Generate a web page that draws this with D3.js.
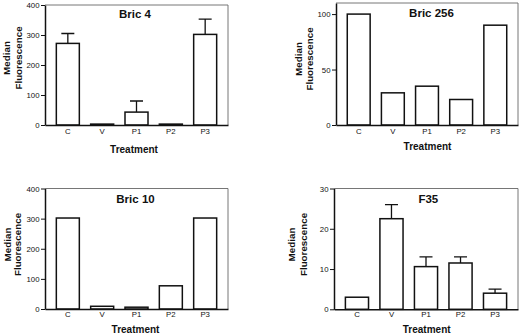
<!DOCTYPE html>
<html>
<head>
<meta charset="utf-8">
<script src="https://cdn.jsdelivr.net/npm/d3@7"></script>
<style>
  html, body { margin: 0; padding: 0; background: #fff; }
  svg { display: block; }
  text { font-family: "Liberation Sans", Arial, Helvetica, sans-serif; fill: #111; }
</style>
</head>
<body>
<svg id="chart" width="520" height="335"></svg>
<script>
const categories = ["C", "V", "P1", "P2", "P3"];

const bric4Values = [272, 3, 43, 3, 302];
const bric4Errors = [33, 0, 37, 0, 51];
const bric4Ticks = [0, 100, 200, 300, 400];

const bric256Values = [100, 29, 35, 23, 90];
const bric256Errors = [0, 0, 0, 0, 0];
const bric256Ticks = [0, 50, 100];

const bric10Values = [302, 9, 6, 77, 302];
const bric10Errors = [0, 0, 0, 0, 0];
const bric10Ticks = [0, 100, 200, 300, 400];

const f35Values = [3, 22.5, 10.6, 11.5, 4];
const f35Errors = [0, 3.5, 2.4, 1.5, 1];
const f35Ticks = [0, 10, 20, 30];

const panelTitles = ["Bric 4", "Bric 256", "Bric 10", "F35"];
const yLabelLines = ["Median", "Fluorescence"];
const xLabel = "Treatment";

const panels = [
  { title: panelTitles[0], values: bric4Values, errors: bric4Errors, ticks: bric4Ticks, max: 400,
    l: 45, r: 228, t: 5, b: 125, titleX: 135, titleY: 18, yl1: 10, yl2: 21.5, ylY: 58,
    xtY: 133.5, xlX: 134, xlY: 152.5 },
  { title: panelTitles[1], values: bric256Values, errors: bric256Errors, ticks: bric256Ticks, max: 110,
    l: 336, r: 518, t: 3, b: 125, titleX: 431.5, titleY: 17.3, yl1: 301.5, yl2: 313, ylY: 59,
    xtY: 133.5, xlX: 427.5, xlY: 150 },
  { title: panelTitles[2], values: bric10Values, errors: bric10Errors, ticks: bric10Ticks, max: 400,
    l: 45, r: 228, t: 188.5, b: 309, titleX: 135.5, titleY: 202.7, yl1: 10.5, yl2: 21, ylY: 244.5,
    xtY: 317.3, xlX: 135.5, xlY: 333.3 },
  { title: panelTitles[3], values: f35Values, errors: f35Errors, ticks: f35Ticks, max: 30,
    l: 334, r: 518, t: 188.5, b: 309.3, titleX: 428.3, titleY: 202.7, yl1: 295, yl2: 306.7, ylY: 244.5,
    xtY: 317.3, xlX: 426.7, xlY: 333.3 }
];

const svg = d3.select("#chart");

panels.forEach(p => {
  const g = svg.append("g");
  const x = d3.scaleBand().domain(categories).range([p.l, p.r]).paddingInner(0.33).paddingOuter(0.33);
  const y = d3.scaleLinear().domain([0, p.max]).range([p.b, p.t]);

  // frame top and right (thin grey)
  g.append("line").attr("x1", p.l).attr("x2", p.r).attr("y1", p.t).attr("y2", p.t)
    .attr("stroke", "#666").attr("stroke-width", 0.9);
  g.append("line").attr("x1", p.r).attr("x2", p.r).attr("y1", p.t).attr("y2", p.b)
    .attr("stroke", "#666").attr("stroke-width", 0.9);

  // error bars (upper only)
  const data = categories.map((c, i) => ({ c, v: p.values[i], e: p.errors[i] }));
  g.selectAll(".err").data(data.filter(d => d.e > 0)).enter().append("path")
    .attr("d", d => {
      const cx = x(d.c) + x.bandwidth() / 2;
      return `M${cx},${y(d.v)}V${y(d.v + d.e)}M${cx - 6.5},${y(d.v + d.e)}H${cx + 6.5}`;
    })
    .attr("stroke", "#111").attr("stroke-width", 1.3).attr("fill", "none");

  // bars
  g.selectAll(".bar").data(data).enter().append("rect")
    .attr("x", d => x(d.c))
    .attr("width", x.bandwidth())
    .attr("y", d => y(d.v))
    .attr("height", d => y(0) - y(d.v))
    .attr("fill", "#fff")
    .attr("stroke", "#111")
    .attr("stroke-width", 1.5);

  // y axis
  const ya = g.append("g").attr("transform", `translate(${p.l},0)`)
    .call(d3.axisLeft(y).tickValues(p.ticks).tickSize(4).tickSizeOuter(0).tickPadding(1.5));
  ya.select(".domain").attr("stroke", "#111").attr("stroke-width", 1.5);
  ya.selectAll(".tick line").attr("stroke", "#111").attr("stroke-width", 1);
  ya.selectAll(".tick text").style("font-size", "7.8px").style("font-family", "Liberation Sans, Arial, sans-serif").attr("fill", "#111");

  // x axis
  const xa = g.append("g").attr("transform", `translate(0,${p.b})`)
    .call(d3.axisBottom(x).tickSize(0).tickSizeOuter(0).tickPadding(0));
  xa.select(".domain").attr("stroke", "#111").attr("stroke-width", 1.5);
  xa.selectAll(".tick text").attr("y", null).attr("dy", null)
    .attr("transform", `translate(0,${p.xtY - p.b})`)
    .style("font-size", "7.8px").style("font-family", "Liberation Sans, Arial, sans-serif").attr("fill", "#111");

  // title
  g.append("text").attr("x", p.titleX).attr("y", p.titleY).attr("text-anchor", "middle")
    .style("font-size", "11.5px").style("font-weight", "bold").text(p.title);

  // y label (two lines, rotated)
  [p.yl1, p.yl2].forEach((xx, i) => {
    g.append("text").attr("transform", `translate(${xx},${p.ylY}) rotate(-90)`)
      .attr("text-anchor", "middle")
      .style("font-size", "9.8px").style("font-weight", "bold").text(yLabelLines[i]);
  });

  // x label
  g.append("text").attr("x", p.xlX).attr("y", p.xlY).attr("text-anchor", "middle")
    .style("font-size", "10px").style("font-weight", "bold").text(xLabel);
});
</script>
</body>
</html>
